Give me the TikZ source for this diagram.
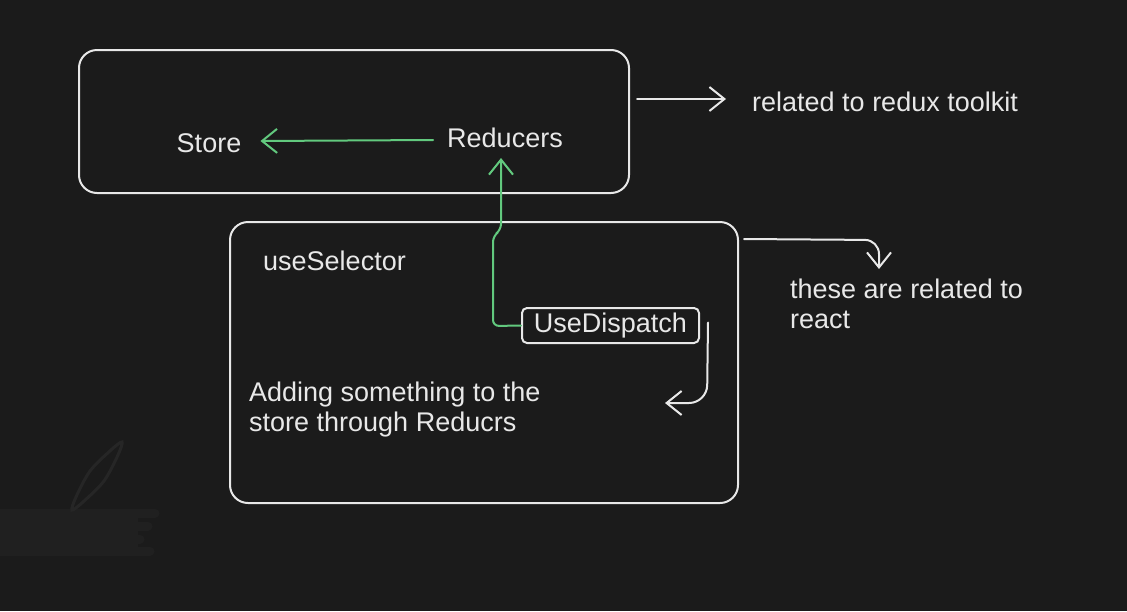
\documentclass[tikz,border=0pt]{standalone}
\usepackage{fontspec}
\setmainfont{Liberation Sans}
\usetikzlibrary{arrows.meta,positioning}
\definecolor{canvas}{HTML}{1B1B1B}
\definecolor{ink}{HTML}{E8E8E8}
\definecolor{leaf}{HTML}{62C97E}
\definecolor{smudge}{HTML}{262626}
\definecolor{smear}{HTML}{202020}
\begin{document}
\begin{tikzpicture}[
  x=1pt, y=-1pt,
  framebox/.style = {draw=ink, line width=2pt, rounded corners=18pt,
                     inner sep=0pt},
  txt/.style      = {text=ink, font=\fontsize{27}{30}\selectfont,
                     inner sep=0pt, align=left},
  wharr/.style    = {draw=ink, line width=2pt, line cap=round,
                     -{Straight Barb[length=15pt,width=24pt]}},
  grarr/.style    = {wharr, draw=leaf},
]
\useasboundingbox[fill=canvas] (0,0) rectangle (1127,611);

%% -- faint scribble, bottom left ----------------------------------------
\fill[smear] (0,512) rectangle (138,553);
\foreach \yy/\xx in {513/155, 526/148, 539/140, 551/150}
  \draw[smear, line width=9pt, line cap=round] (0,\yy) -- (\xx,\yy);
\draw[smudge, line width=3pt] plot[smooth cycle] coordinates
  {(122,442) (118,455) (104,481) (83,502) (72,510) (76,497) (90,471) (111,450)};

%% -- redux box ------------------------------------------------------------
\node[framebox, minimum width=550pt, minimum height=143pt] (redux) at (354,121.5) {};
\node[txt] (store)    at (209,143) {Store};
\node[txt] (reducers) at (505,138) {Reducers};
\draw[grarr] ([shift={(-14pt,-2pt)}]reducers.west) -- ([shift={(19pt,2pt)}]store.east);

\coordinate (toolkitIn) at (726,99);
\draw[wharr] ([shift={(7pt,22.5pt)}]redux.east) -- (toolkitIn);
\node[txt, anchor=west] (toolkit) at (752,102) {related to redux toolkit};

%% -- react box ------------------------------------------------------------
\node[framebox, minimum width=508pt, minimum height=281pt] (hooks) at (484,362.5) {};
\node[txt, anchor=west] (selector) at (263,261) {useSelector};
\node[framebox, txt, rounded corners=5pt, minimum width=177pt,
      minimum height=35pt] (dispatch) at (610.5,325.5) {UseDispatch};
\node[txt, anchor=west] (adding) at (249,409.5)
  {Adding something to the\\store through Reducrs};

\coordinate (reducersIn) at (501,158);
\draw[grarr, rounded corners=6pt] (dispatch.west) -- (493,326) -- (493,236)
  -- (501,230) -- (reducersIn);

\coordinate (addingIn) at (665,403);
\draw[wharr, rounded corners=18pt] ([shift={(8pt,3pt)}]dispatch.east)
  -- (707,403) -- (addingIn);

\coordinate (reactIn) at (879,269);
\draw[wharr, rounded corners=14pt] ([shift={(5pt,-18pt)}]hooks.north east)
  -- (879,240) -- (reactIn);
\node[txt, anchor=west] (react) at (790,304) {these are related to\\react};

\end{tikzpicture}
\end{document}
